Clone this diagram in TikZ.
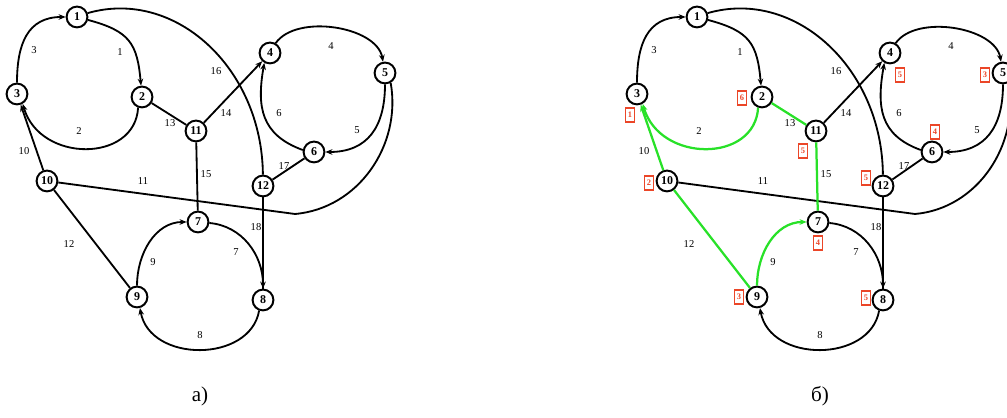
\documentclass[tikz,border=0pt]{standalone}
\usepackage{fontspec}
\setmainfont{Liberation Serif}
\usetikzlibrary{arrows.meta}

\definecolor{pathgreen}{RGB}{40,225,40}
\definecolor{markred}{RGB}{235,70,40}

\begin{document}
\begin{tikzpicture}[x=0.025cm, y=0.025cm,
  vert/.style={circle, draw, line width=1.4pt, minimum size=0.52cm, inner sep=0pt, font=\fontsize{8.5}{9}\selectfont\bfseries},
  conn/.style={line width=1.3pt},
  dconn/.style={conn, -{Stealth[length=5pt,width=4pt]}},
  onpath/.style={draw=pathgreen, line width=1.6pt},
  elab/.style={font=\fontsize{7.5}{8}\selectfont},
  rankbox/.style={draw=markred, line width=0.8pt, text=markred, inner sep=0.5pt, minimum width=7pt, minimum height=10pt, font=\fontsize{6}{6}\selectfont\bfseries},
  captext/.style={font=\fontsize{15}{16}\selectfont}
]
\useasboundingbox (0,0) rectangle (1007,418);

% ---- panel a)
\begin{scope}
\node[vert] (a1) at (77,401) {1};
\node[vert] (a2) at (142,321) {2};
\node[vert] (a3) at (17,324) {3};
\node[vert] (a4) at (270,365) {4};
\node[vert] (a5) at (385,345) {5};
\node[vert] (a6) at (314,266) {6};
\node[vert] (a7) at (198,196) {7};
\node[vert] (a8) at (263,118) {8};
\node[vert] (a9) at (137,121) {9};
\node[vert] (a10) at (47,237) {10};
\node[vert] (a11) at (196,287) {11};
\node[vert] (a12) at (263,232) {12};
\coordinate (a-bend) at (295,204);
% arcs
\draw[dconn] (a1) to[out=-15,in=95,looseness=1.3] (a2);
\draw[dconn] (a2.-110) .. controls (135,255) and (40,255) .. (a3.-60);
\draw[dconn] (a3) to[out=90,in=180,looseness=1.2] (a1);
\draw[dconn] (a4.60) to[out=55,in=100,looseness=0.85] (a5);
\draw[dconn] (a5) to[out=-90,in=0,looseness=1.2] (a6);
\draw[dconn] (a6.170) to[out=160,in=-100,looseness=1.2] (a4.-120);
\draw[dconn] (a7) to[out=-5,in=90] (a8);
\draw[dconn] (a8.-110) .. controls (250,55) and (150,55) .. (a9.-75);
\draw[dconn] (a9) to[out=90,in=180] (a7);
\draw[dconn] (a10) -- (a3);
\draw[conn] (a10) -- (a-bend) to[out=5,in=-80] (a5.-60);
\draw[conn] (a10) -- (a9);
\draw[conn] (a2) -- (a11);
\draw[dconn] (a11) -- (a4);
\draw[conn] (a11) -- (a7);
\draw[conn] (a1.20) .. controls (175,430) and (262,350) .. (a12);
\draw[conn] (a12) -- (a6);
\draw[conn] (a12) -- (a8);
% arc numbers
\node[elab] (a-l1) at (120,366) {1};
\node[elab] (a-l2) at (79,287) {2};
\node[elab] (a-l3) at (34,368) {3};
\node[elab] (a-l4) at (331,372) {4};
\node[elab] (a-l5) at (357,288) {5};
\node[elab] (a-l6) at (279,305) {6};
\node[elab] (a-l7) at (236,166) {7};
\node[elab] (a-l8) at (200,83) {8};
\node[elab] (a-l9) at (153,156) {9};
\node[elab] (a-l10) at (24,267) {10};
\node[elab] (a-l11) at (143,237) {11};
\node[elab] (a-l12) at (69,174) {12};
\node[elab] (a-l13) at (170,295) {13};
\node[elab] (a-l14) at (226,305) {14};
\node[elab] (a-l15) at (206,244) {15};
\node[elab] (a-l16) at (216,347) {16};
\node[elab] (a-l17) at (284,252) {17};
\node[elab] (a-l18) at (256,191) {18};
\end{scope}

% ---- panel b)
\begin{scope}[shift={(620,0)}]
\node[vert] (b1) at (77,401) {1};
\node[vert] (b2) at (142,321) {2};
\node[vert] (b3) at (17,324) {3};
\node[vert] (b4) at (270,365) {4};
\node[vert] (b5) at (383,345) {5};
\node[vert] (b6) at (312,266) {6};
\node[vert] (b7) at (198,196) {7};
\node[vert] (b8) at (263,118) {8};
\node[vert] (b9) at (137,121) {9};
\node[vert] (b10) at (47,237) {10};
\node[vert] (b11) at (196,287) {11};
\node[vert] (b12) at (263,232) {12};
\coordinate (b-bend) at (295,204);
% arcs (green = found cycle)
\draw[dconn] (b1) to[out=-15,in=95,looseness=1.3] (b2);
\draw[dconn, onpath] (b2.-110) .. controls (135,255) and (40,255) .. (b3.-60);
\draw[dconn] (b3) to[out=90,in=180,looseness=1.2] (b1);
\draw[dconn] (b4.60) to[out=55,in=100,looseness=0.85] (b5);
\draw[dconn] (b5) to[out=-90,in=0,looseness=1.2] (b6);
\draw[dconn] (b6.170) to[out=160,in=-100,looseness=1.2] (b4.-120);
\draw[dconn] (b7) to[out=-5,in=90] (b8);
\draw[dconn] (b8.-110) .. controls (250,55) and (150,55) .. (b9.-75);
\draw[dconn, onpath] (b9) to[out=90,in=180] (b7);
\draw[dconn, onpath] (b10) -- (b3);
\draw[conn] (b10) -- (b-bend) to[out=5,in=-80] (b5.-60);
\draw[conn, onpath] (b10) -- (b9);
\draw[conn, onpath] (b2) -- (b11);
\draw[dconn] (b11) -- (b4);
\draw[conn, onpath] (b11) -- (b7);
\draw[conn] (b1.20) .. controls (175,430) and (262,350) .. (b12);
\draw[conn] (b12) -- (b6);
\draw[conn] (b12) -- (b8);
% arc numbers
\node[elab] (b-l1) at (120,366) {1};
\node[elab] (b-l2) at (79,287) {2};
\node[elab] (b-l3) at (34,368) {3};
\node[elab] (b-l4) at (331,372) {4};
\node[elab] (b-l5) at (357,288) {5};
\node[elab] (b-l6) at (279,305) {6};
\node[elab] (b-l7) at (236,166) {7};
\node[elab] (b-l8) at (200,83) {8};
\node[elab] (b-l9) at (153,156) {9};
\node[elab] (b-l10) at (24,267) {10};
\node[elab] (b-l11) at (143,237) {11};
\node[elab] (b-l12) at (69,174) {12};
\node[elab] (b-l13) at (170,295) {13};
\node[elab] (b-l14) at (226,305) {14};
\node[elab] (b-l15) at (206,244) {15};
\node[elab] (b-l16) at (216,347) {16};
\node[elab] (b-l17) at (284,252) {17};
\node[elab] (b-l18) at (256,191) {18};
% ranks
\node[rankbox] (b-r3) at (10,303) {1};
\node[rankbox] (b-r10) at (29,235) {2};
\node[rankbox] (b-r9) at (119,121) {3};
\node[rankbox] (b-r7) at (198,175) {4};
\node[rankbox] (b-r11) at (183,267) {5};
\node[rankbox] (b-r2) at (122,320) {6};
\node[rankbox] (b-r4) at (280,343) {5};
\node[rankbox] (b-r5) at (365,343) {3};
\node[rankbox] (b-r6) at (315,286) {4};
\node[rankbox] (b-r12) at (246,240) {5};
\node[rankbox] (b-r8) at (246,120) {5};
\end{scope}

% captions
\node[captext] (cap-a) at (200,22) {а)};
\node[captext] (cap-b) at (820,22) {б)};
\end{tikzpicture}
\end{document}
